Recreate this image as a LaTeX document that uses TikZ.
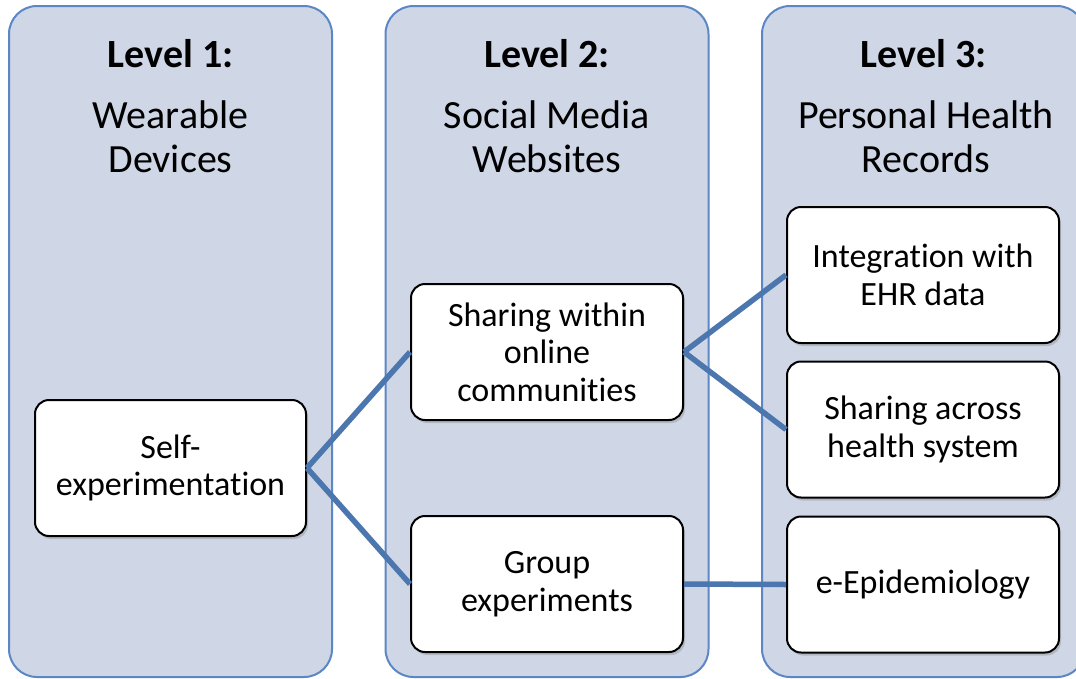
\documentclass[tikz,border=0pt]{standalone}
\usepackage{fontspec}
\setmainfont[RawFeature=-liga]{Carlito}
\usetikzlibrary{shadows}
\definecolor{colfill}{RGB}{207,214,229}
\definecolor{colline}{RGB}{91,135,198}
\definecolor{connblue}{RGB}{76,118,174}
\tikzset{
  colbox/.style={draw=colline, line width=2pt, fill=colfill, rounded corners=28pt, minimum width=323pt, minimum height=671pt, inner sep=0pt},
  itembox/.style={draw=black, line width=2pt, fill=white, rounded corners=14pt, minimum width=272pt, minimum height=136pt, align=center, inner sep=2pt,
    font=\fontsize{34}{37.5}\selectfont,
    drop shadow={shadow xshift=2pt, shadow yshift=-3pt, opacity=0.35, fill=gray}},
  titletext/.style={anchor=base, font=\fontsize{40}{44}\selectfont\bfseries},
  subtext/.style={anchor=base, align=center, font=\fontsize{40}{44}\selectfont},
  conn/.style={draw=connblue, line width=5.5pt}
}
\begin{document}
\begin{tikzpicture}[x=1pt,y=-1pt]
\clip (0,0) rectangle (1076,678);
\fill[white] (0,0) rectangle (1076,678);
% columns
\node[colbox] (col1) at (170.5,341.5) {};
\node[colbox] (col2) at (547,341.5) {};
\node[colbox] (col3) at (923.5,341.5) {};
% titles
\node[titletext] (t1) at (170.5,67) {Level 1:};
\node[titletext] (t2) at (547,67) {Level 2:};
\node[titletext] (t3) at (923.5,67) {Level 3:};
\node[subtext] (s1) at (170.5,172) {Wearable\\Devices};
\node[subtext] (s2) at (547,172) {Social Media\\Websites};
\node[subtext] (s3) at (926,172) {Personal Health\\Records};
% boxes
\node[itembox, minimum width=271pt] (self) at (170.5,468) {Self-\\experimentation};
\node[itembox] (share) at (547,352) {Sharing within\\online\\communities};
\node[itembox] (group) at (547,584) {Group\\experiments};
\node[itembox] (integ) at (923,275) {Integration with\\EHR data};
\node[itembox] (across) at (923,429.5) {Sharing across\\health system};
\node[itembox] (epi) at (923,584.5) {e-Epidemiology};
% connectors
\draw[conn] (self.east) -- (share.west);
\draw[conn] (self.east) -- (group.west);
\draw[conn] (share.east) -- (integ.west);
\draw[conn] (share.east) -- (across.west);
\draw[conn] (group.east) -- (epi.west);
\end{tikzpicture}
\end{document}
